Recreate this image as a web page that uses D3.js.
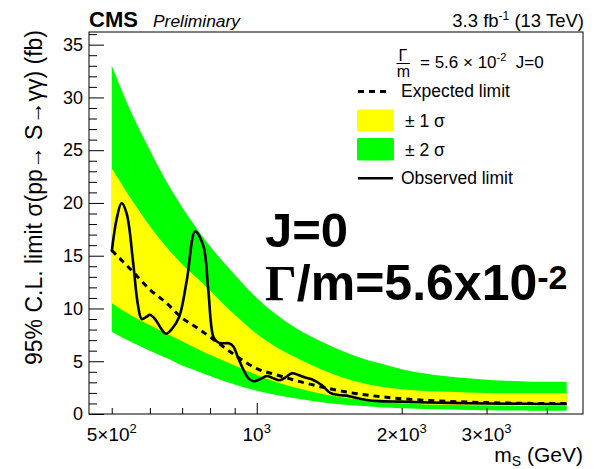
<!DOCTYPE html>
<html>
<head>
<meta charset="utf-8">
<script src="https://cdn.jsdelivr.net/npm/d3@7"></script>
<style>
  body { margin: 0; background: #fff; }
  text { font-family: "Liberation Sans", Arial, Helvetica, sans-serif; }
</style>
</head>
<body>
<svg id="chart" width="603" height="469"></svg>
<script>
// band grid (GeV) and limits (fb)
const bandMass = [500, 550, 600, 650, 700, 750, 800, 900, 1000, 1100, 1200, 1400, 1600, 1800, 2000, 2500, 3000, 3500, 4000, 4400];
const expLimit = [15.5, 13.6, 11.8, 10.5, 9.1, 8.2, 7.3, 5.6, 4.3, 3.7, 3.2, 2.45, 1.95, 1.65, 1.45, 1.2, 1.08, 1.02, 1.0, 1.0];
const up1 = [23.3, 20.3, 17.8, 15.8, 14.2, 12.9, 11.7, 9.4, 7.6, 6.3, 5.4, 4.0, 3.1, 2.6, 2.35, 2.1, 2.0, 1.97, 1.96, 1.96];
const lo1 = [10.5, 9.3, 8.4, 7.6, 6.9, 6.2, 5.6, 4.6, 3.7, 3.0, 2.5, 1.8, 1.4, 1.15, 1.0, 0.85, 0.8, 0.77, 0.75, 0.75];
const up2 = [33.0, 28.5, 25.0, 22.0, 19.6, 17.6, 15.9, 13.2, 11.0, 9.4, 8.2, 6.6, 5.5, 4.8, 4.25, 3.55, 3.25, 3.1, 3.05, 3.05];
const lo2 = [7.8, 6.8, 6.0, 5.3, 4.6, 4.1, 3.6, 2.8, 2.2, 1.8, 1.5, 1.05, 0.8, 0.65, 0.55, 0.42, 0.35, 0.32, 0.3, 0.3];

// observed limit
const obsMass = [500, 512, 524, 537, 554, 566, 577, 590, 600, 615, 635, 648, 665, 690, 716, 745, 775, 793, 813, 830, 852, 875, 894, 915, 938, 960, 984, 1015, 1049, 1080, 1118, 1150, 1182, 1220, 1260, 1300, 1364, 1420, 1480, 1537, 1600, 1692, 1800, 1984, 2500, 3000, 3500, 4000, 4400];
const obsLimit = [15.4, 18.5, 20.0, 19.0, 14.3, 10.5, 9.0, 9.2, 9.4, 9.0, 8.0, 7.6, 8.0, 9.2, 12.7, 17.3, 15.9, 11.8, 7.3, 6.8, 6.7, 6.7, 6.4, 5.3, 4.2, 3.4, 3.1, 3.3, 3.6, 3.4, 3.2, 3.5, 3.85, 3.7, 3.45, 3.3, 2.75, 2.0, 1.8, 1.74, 1.55, 1.33, 1.22, 1.17, 1.05, 1.0, 0.97, 0.95, 0.95];

const yMajor = [0, 5, 10, 15, 20, 25, 30, 35];
const xMajor = [1000];
const xMinor = [500, 600, 700, 800, 900, 2000, 3000, 4000];
const xLabels = [[500, "5×10", "2"], [1000, "10", "3"], [2000, "2×10", "3"], [3000, "3×10", "3"]];

const svg = d3.select('#chart');
const frameLeft = 89, frameRight = 583, frameTop = 32, frameBottom = 414;

let x = d3.scaleLog().domain([448.5, 4757]).range([frameLeft, frameRight]);
let y = d3.scaleLinear().domain([0, 36.2]).range([frameBottom, frameTop]);

svg.append('rect').attr('width', 603).attr('height', 469).attr('fill', '#fff');

svg.append('clipPath').attr('id', 'clip')
  .append('rect').attr('x', frameLeft).attr('y', frameTop)
  .attr('width', frameRight - frameLeft).attr('height', frameBottom - frameTop);

let plot = svg.append('g').attr('clip-path', 'url(#clip)');

let band = (lo, hi) => d3.area()
  .x((d, i) => x(bandMass[i]))
  .y0((d, i) => y(lo[i]))
  .y1((d, i) => y(hi[i]))
  .curve(d3.curveMonotoneX);

plot.append('path').datum(bandMass).attr('d', band(lo2, up2)).attr('fill', '#00ff00');
plot.append('path').datum(bandMass).attr('d', band(lo1, up1)).attr('fill', '#ffff00');

plot.append('path').datum(bandMass)
  .attr('d', d3.line().x((d, i) => x(bandMass[i])).y((d, i) => y(expLimit[i])).curve(d3.curveMonotoneX))
  .attr('fill', 'none').attr('stroke', '#000').attr('stroke-width', 3).attr('stroke-dasharray', '6,5');

plot.append('path').datum(obsMass)
  .attr('d', d3.line().x((d, i) => x(obsMass[i])).y((d, i) => y(obsLimit[i])).curve(d3.curveCatmullRom.alpha(0.5)))
  .attr('fill', 'none').attr('stroke', '#000').attr('stroke-width', 2.6);

// axes, ROOT style: ticks inside the frame
let yMinor = d3.range(0, 37, 1).filter(v => v % 5 != 0);
svg.append('g').attr('transform', `translate(${frameLeft},0)`)
  .call(d3.axisLeft(y).tickValues(yMinor).tickSize(-8).tickFormat(''))
  .call(g => g.select('.domain').remove());
svg.append('g').attr('class', 'yaxis').attr('transform', `translate(${frameLeft},0)`)
  .call(d3.axisLeft(y).tickValues(yMajor).tickSize(-15).tickPadding(6))
  .call(g => g.select('.domain').remove())
  .selectAll('text').attr('font-size', 18).attr('fill', '#000').attr('x', -6)
  .attr('font-family', '"Liberation Sans", Arial, sans-serif');

svg.append('g').attr('transform', `translate(0,${frameBottom})`)
  .call(d3.axisBottom(x).tickValues(xMinor).tickSize(-6).tickFormat(''))
  .call(g => g.select('.domain').remove());
svg.append('g').attr('transform', `translate(0,${frameBottom})`)
  .call(d3.axisBottom(x).tickValues(xMajor).tickSize(-11).tickFormat(''))
  .call(g => g.select('.domain').remove());

svg.selectAll('.tick line').attr('stroke', '#000');

let xl = svg.append('g');
xLabels.forEach(function(l) {
  let t = xl.append('text').attr('x', x(l[0])).attr('y', 441).attr('text-anchor', 'middle')
    .attr('font-size', 19);
  t.append('tspan').text(l[1]);
  t.append('tspan').attr('font-size', 13).attr('dy', -8).text(l[2]);
});

svg.append('rect').attr('x', frameLeft).attr('y', frameTop)
  .attr('width', frameRight - frameLeft).attr('height', frameBottom - frameTop)
  .attr('fill', 'none').attr('stroke', '#000').attr('stroke-width', 1);

// titles
let xt = svg.append('text').attr('x', frameRight).attr('y', 462).attr('text-anchor', 'end').attr('font-size', 21);
xt.append('tspan').text('m');
xt.append('tspan').attr('font-size', 14).attr('dy', 4).text('S');
xt.append('tspan').attr('dy', -4).text(' (GeV)');

svg.append('text').attr('transform', 'translate(42,30) rotate(-90)').attr('text-anchor', 'end')
  .attr('font-size', 23).text('95% C.L. limit σ(pp→ S→γγ) (fb)');

svg.append('text').attr('x', frameLeft).attr('y', 26.5).attr('font-size', 22).attr('font-weight', 'bold').text('CMS');
svg.append('text').attr('x', 153).attr('y', 26.5).attr('font-size', 17.4).attr('font-style', 'italic').text('Preliminary');

let lumi = svg.append('text').attr('x', 584).attr('y', 26.5).attr('text-anchor', 'end').attr('font-size', 18.5);
lumi.append('tspan').text('3.3 fb');
lumi.append('tspan').attr('font-size', 12).attr('dy', -7).text('-1');
lumi.append('tspan').attr('dy', 7).text(' (13 TeV)');

// legend
let leg = svg.append('g');
leg.append('text').attr('x', 403).attr('y', 60.5).attr('text-anchor', 'middle').attr('font-size', 16)
  .attr('font-family', '"Liberation Serif", serif').text('Γ');
leg.append('line').attr('x1', 396.5).attr('x2', 410).attr('y1', 63.5).attr('y2', 63.5).attr('stroke', '#000').attr('stroke-width', 1);
leg.append('text').attr('x', 403.5).attr('y', 76.5).attr('text-anchor', 'middle').attr('font-size', 16).text('m');
let hd = leg.append('text').attr('x', 420).attr('y', 68).attr('font-size', 17);
hd.append('tspan').text('= 5.6 × 10');
hd.append('tspan').attr('font-size', 11).attr('dy', -7).text('-2');
hd.append('tspan').attr('dy', 7).text('\u00a0\u00a0J=0');

leg.append('line').attr('x1', 358).attr('x2', 389).attr('y1', 91.5).attr('y2', 91.5)
  .attr('stroke', '#000').attr('stroke-width', 3).attr('stroke-dasharray', '6,5');
leg.append('text').attr('x', 401).attr('y', 97).attr('font-size', 17.5).text('Expected limit');
leg.append('rect').attr('x', 357).attr('y', 109.5).attr('width', 37).attr('height', 22).attr('rx', 1.5).attr('fill', '#ffff00');
leg.append('text').attr('x', 405).attr('y', 127).attr('font-size', 17.5).text('± 1 σ');
leg.append('rect').attr('x', 357).attr('y', 138).attr('width', 37).attr('height', 22.5).attr('rx', 1.5).attr('fill', '#00ff00');
leg.append('text').attr('x', 405).attr('y', 156).attr('font-size', 17.5).text('± 2 σ');
leg.append('line').attr('x1', 358).attr('x2', 393).attr('y1', 178.3).attr('y2', 178.3).attr('stroke', '#000').attr('stroke-width', 2.6);
leg.append('text').attr('x', 401).attr('y', 184).attr('font-size', 17.5).text('Observed limit');

// big annotation
svg.append('text').attr('x', 265).attr('y', 247).attr('font-size', 49).attr('font-weight', 'bold').text('J=0');
let big = svg.append('text').attr('x', 265).attr('y', 300).attr('font-size', 50).attr('font-weight', 'bold');
big.append('tspan').attr('font-family', '"Liberation Serif", serif').text('Γ');
big.append('tspan').text('/m=5.6x10');
big.append('tspan').attr('font-size', 34).attr('dy', -11).text('-2');
</script>
</body>
</html>
